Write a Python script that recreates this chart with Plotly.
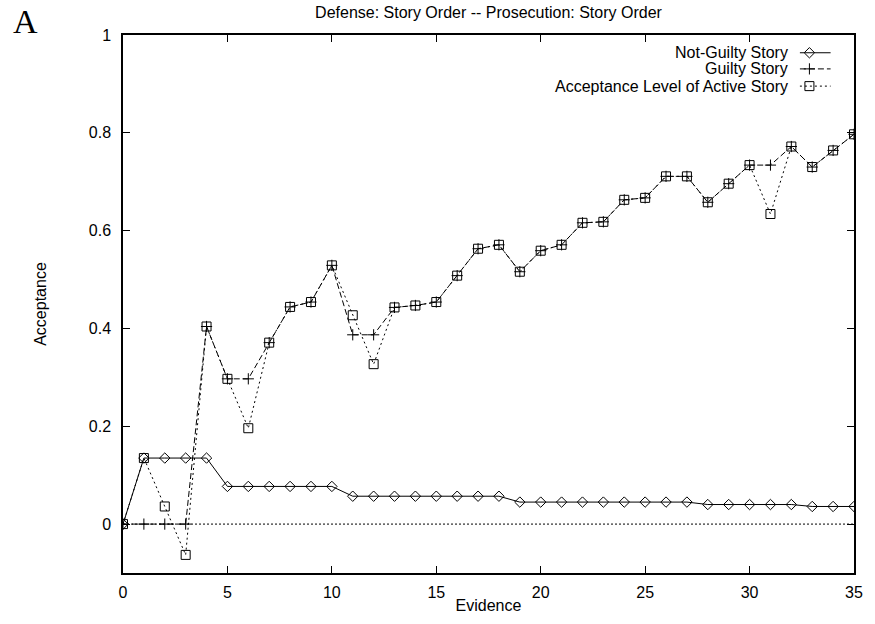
import plotly.graph_objects as go

evidence = list(range(36))
not_guilty = [0.0, 0.135, 0.135, 0.135, 0.135,
              0.077, 0.077, 0.077, 0.077, 0.077, 0.077,
              0.057, 0.057, 0.057, 0.057, 0.057, 0.057, 0.057, 0.057,
              0.045, 0.045, 0.045, 0.045, 0.045, 0.045, 0.045, 0.045, 0.045,
              0.040, 0.040, 0.040, 0.040, 0.040,
              0.036, 0.036, 0.036]
guilty = [0.0, 0.0, 0.0, 0.0, 0.404, 0.297, 0.297, 0.371, 0.444, 0.454,
          0.529, 0.387, 0.387, 0.443, 0.447, 0.454, 0.508, 0.563, 0.571, 0.516,
          0.559, 0.571, 0.616, 0.618, 0.663, 0.667, 0.711, 0.711, 0.658, 0.696,
          0.734, 0.734, 0.772, 0.730, 0.764, 0.797]
active = [0.0, 0.135, 0.036, -0.063, 0.404, 0.297, 0.196, 0.371, 0.444, 0.454,
          0.529, 0.427, 0.327, 0.443, 0.447, 0.454, 0.508, 0.563, 0.571, 0.516,
          0.559, 0.571, 0.616, 0.618, 0.663, 0.667, 0.711, 0.711, 0.658, 0.696,
          0.734, 0.634, 0.772, 0.730, 0.764, 0.797]

series_names = ["Not-Guilty Story", "Guilty Story", "Acceptance Level of Active Story"]
x_ticks = [0, 5, 10, 15, 20, 25, 30, 35]
y_ticks = [0, 0.2, 0.4, 0.6, 0.8, 1]
y_tick_text = ["0", "0.2", "0.4", "0.6", "0.8", "1"]

FONT = "Liberation Sans, Arial, sans-serif"
FS = 16
styles = [
    dict(symbol="diamond-open", size=8, dash="solid"),
    dict(symbol="cross-thin-open", size=8, dash="6px,3px"),
    dict(symbol="square-open", size=9, dash="2px,3px"),
]
data = [not_guilty, guilty, active]

fig = go.Figure()
for name, ys, st in zip(series_names, data, styles):
    fig.add_trace(go.Scatter(
        x=evidence, y=ys, name=name, mode="lines+markers",
        line=dict(color="black", width=1, dash=st["dash"]),
        marker=dict(symbol=st["symbol"], size=st["size"], color="black",
                    line=dict(color="black", width=1)),
        showlegend=False,
    ))

# custom legend (text right-aligned, key on the right, gnuplot style)
leg_y = [0.967, 0.937, 0.905]
key_x0, key_x1, key_mark = 0.926, 0.968, 0.939
for name, st, ly in zip(series_names, styles, leg_y):
    fig.add_annotation(x=0.912, y=ly, xref="paper", yref="paper", text=name,
                       showarrow=False, xanchor="right", yanchor="middle",
                       font=dict(family=FONT, size=FS, color="black"))
    fig.add_shape(type="line", xref="paper", yref="paper", x0=key_x0, x1=key_x1,
                  y0=ly, y1=ly, line=dict(color="black", width=1, dash=st["dash"]))
    fig.add_trace(go.Scatter(
        x=[key_mark], y=[ly], xaxis="x2", yaxis="y2", mode="markers",
        marker=dict(symbol=st["symbol"], size=st["size"], color="black",
                    line=dict(color="black", width=1)),
        showlegend=False, hoverinfo="skip",
    ))

# dotted zero axis
fig.add_shape(type="line", xref="paper", yref="y", x0=0, x1=1, y0=0, y1=0,
              line=dict(color="black", width=1, dash="2px,2px"), layer="below")

fig.add_annotation(x=-0.134, y=1.025, xref="paper", yref="paper", text="A",
                   showarrow=False, xanchor="center", yanchor="middle",
                   font=dict(family="Liberation Serif, Times New Roman, serif", size=34, color="black"))

axis_common = dict(showline=True, linecolor="black", linewidth=1.5, mirror="ticks",
                   ticks="inside", ticklen=7, tickcolor="black", tickwidth=1,
                   showgrid=False, zeroline=False,
                   tickfont=dict(family=FONT, size=FS, color="black"))

fig.update_layout(
    width=875, height=624,
    margin=dict(l=123, r=15, t=35, b=46),
    paper_bgcolor="white", plot_bgcolor="white",
    title=dict(text="Defense: Story Order -- Prosecution: Story Order",
               x=0.5, xref="paper", y=1 - 12 / 624, yref="container",
               xanchor="center", yanchor="middle",
               font=dict(family=FONT, size=FS, color="black")),
    xaxis=dict(range=[0, 35], tickvals=x_ticks, ticklabelstandoff=4, **axis_common,
               title=dict(text="Evidence", standoff=0,
                          font=dict(family=FONT, size=FS, color="black"))),
    yaxis=dict(range=[-0.1, 1], tickvals=y_ticks, ticktext=y_tick_text,
               ticklabelstandoff=7, **axis_common,
               title=dict(text="Acceptance", standoff=38,
                          font=dict(family=FONT, size=FS, color="black"))),
    xaxis2=dict(range=[0, 1], overlaying="x", visible=False, anchor="y2"),
    yaxis2=dict(range=[0, 1], overlaying="y", visible=False, anchor="x2"),
    showlegend=False,
)

fig.write_html("out.html")
